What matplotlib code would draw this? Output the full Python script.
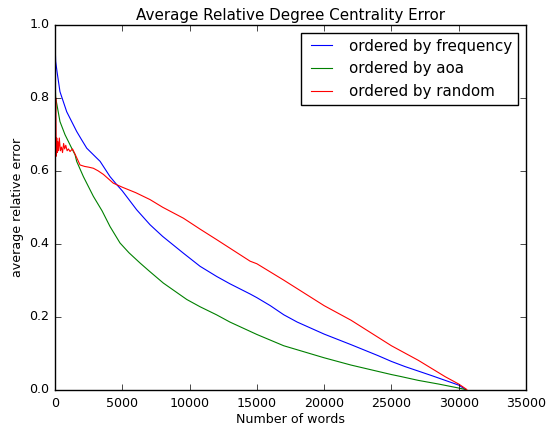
import matplotlib
matplotlib.use("Agg")
import matplotlib.pyplot as plt

plt.style.use('classic')

freq_x = [0, 50, 150, 370, 870, 1610, 1980, 2360, 3100, 3350, 4090, 4590, 5000, 6070,
          7063, 8000, 9540, 10780, 12020, 13000, 14500, 15000, 16000, 17000, 18000,
          20000, 22000, 24000, 25000, 26000, 28000, 30000, 30500]
freq_y = [0.954, 0.90, 0.872, 0.817, 0.762, 0.708, 0.685, 0.662, 0.635, 0.626, 0.584,
          0.562, 0.545, 0.493, 0.452, 0.42, 0.374, 0.338, 0.310, 0.29, 0.262, 0.252,
          0.23, 0.205, 0.185, 0.152, 0.123, 0.093, 0.077, 0.063, 0.038, 0.012, 0.0]

aoa_x = [0, 50, 150, 370, 745, 1000, 1240, 1490, 1610, 2110, 2850, 3500, 4090, 4830,
         5500, 6320, 7000, 8050, 9790, 10780, 12000, 13000, 15000, 17000, 20000, 22000,
         25000, 25650, 27000, 28500, 30000, 30500]
aoa_y = [0.85, 0.80, 0.78, 0.735, 0.699, 0.68, 0.662, 0.644, 0.626, 0.584, 0.530, 0.49,
         0.447, 0.402, 0.375, 0.347, 0.325, 0.292, 0.247, 0.227, 0.205, 0.185, 0.151,
         0.12, 0.087, 0.067, 0.041, 0.036, 0.025, 0.015, 0.004, 0.0]

rand_x = [0, 60, 90, 130, 170, 210, 260, 320, 400, 480, 560, 640, 720, 800, 900,
          1000, 1115, 1300, 1500, 1860, 2200, 2500, 2850, 3200, 3600, 4335, 5000, 6000,
          7063, 8000, 9540, 10780, 12020, 14500, 15000, 17000, 20000, 22000, 25000,
          27000, 29000, 30000, 30600]
rand_y = [0.70, 0.80, 0.64, 0.69, 0.65, 0.68, 0.655, 0.69, 0.655, 0.665, 0.65,
          0.675, 0.66, 0.67, 0.655, 0.66, 0.653, 0.66, 0.645, 0.616, 0.612, 0.61, 0.607,
          0.60, 0.59, 0.566, 0.555, 0.54, 0.521, 0.50, 0.470, 0.440, 0.411, 0.352,
          0.345, 0.3, 0.230, 0.19, 0.12, 0.08, 0.035, 0.015, 0.0]

labels = ["ordered by frequency", "ordered by aoa", "ordered by random"]
title = "Average Relative Degree Centrality Error"
xlabel = "Number of words"
ylabel = "average relative error"

fs = 9.1
plt.rcParams['font.size'] = fs

fig = plt.figure(figsize=(5.47, 4.25), dpi=100, facecolor='white')
ax = fig.add_axes([55/547, 35.5/425, 471/547, 364.5/425])
lw = 0.8
ax.plot(freq_x, freq_y, color='b', lw=lw, label=labels[0])
ax.plot(aoa_x, aoa_y, color='g', lw=lw, label=labels[1])
ax.plot(rand_x, rand_y, color='r', lw=lw, label=labels[2])
ax.set_xlim(0, 35000)
ax.set_ylim(0, 1.0)
ax.set_yticks([0.0, 0.2, 0.4, 0.6, 0.8, 1.0])
ax.set_title(title, fontsize=fs * 1.2, pad=3.5)
ax.set_xlabel(xlabel, fontsize=fs, labelpad=2)
ax.set_ylabel(ylabel, fontsize=fs, labelpad=4)
ax.tick_params(labelsize=fs)
ax.tick_params(axis='x', pad=5.5)
ax.tick_params(axis='y', pad=4)
ax.legend(loc='upper right', fontsize=fs * 1.2)
fig.savefig("out.png", dpi=100, facecolor='white')
